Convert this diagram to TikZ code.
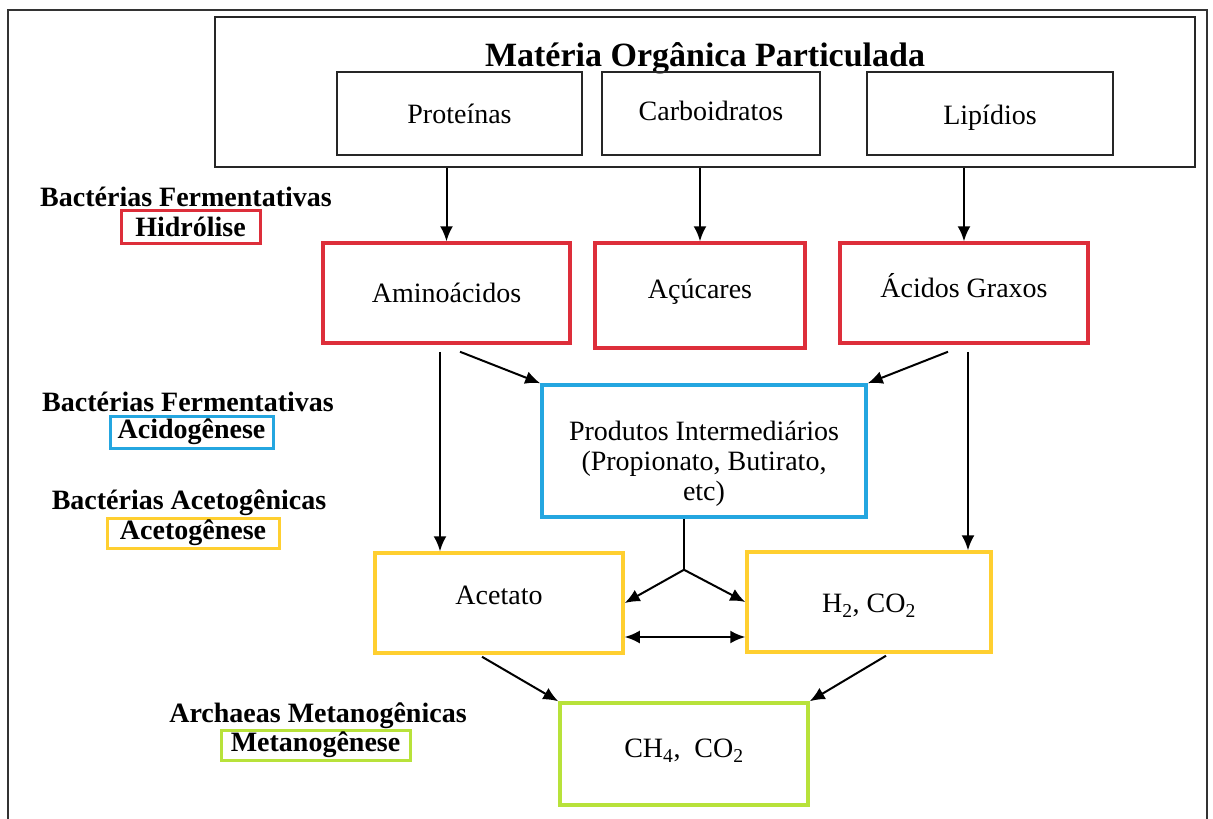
\documentclass[tikz,border=0pt]{standalone}
\usepackage{fontspec}
\setmainfont{Liberation Serif}
\usepackage{tikz}
\usetikzlibrary{calc}
\usetikzlibrary{arrows.meta}
\usetikzlibrary{positioning}

\definecolor{hidrol}{RGB}{221,46,58}
\definecolor{acido}{RGB}{36,166,224}
\definecolor{aceto}{RGB}{255,207,48}
\definecolor{metano}{RGB}{184,226,58}

\tikzset{
 caixa/.style={rectangle, draw=black!85, line width=1.6pt, align=center, font=\fontsize{28}{30}\selectfont},
 etapa/.style={rectangle, line width=3.5pt, align=center, font=\fontsize{28}{30}\selectfont},
 grupo/.style={font=\bfseries\fontsize{28}{30}\selectfont, inner sep=0pt},
 rotulo/.style={rectangle, line width=3pt, inner sep=0pt, font=\bfseries\fontsize{28}{30}\selectfont},
 seta/.style={-{Latex[length=15pt,width=13pt]}, draw=black, line width=2pt}
}

\begin{document}
\begin{tikzpicture}[x=1pt, y=-1pt]
 \useasboundingbox (0,0) rectangle (1213,819);
 \draw [draw=black!80, line width=1.2pt] (8,819) -- (8,10) -- (1207,10) -- (1207,819);

 % materia organica
 \node [caixa, minimum width=980, minimum height=150] (MOP) at (705,92) {};
 \node [font=\bfseries\fontsize{34}{36}\selectfont] (titulo) at (705,58) {Matéria Orgânica Particulada};
 \node [caixa, minimum width=245, minimum height=83] (proteinas) at (459.5,113.5) {Proteínas};
 \node [caixa, minimum width=218, minimum height=83, text depth=6pt] (carboidratos) at (711,113.5) {Carboidratos};
 \node [caixa, minimum width=246, minimum height=83, text height=27pt] (lipidios) at (990,113.5) {Lipídios};

 % hidrolise
 \node [etapa, draw=hidrol, minimum width=247, minimum height=100] (amino) at (446.5,293) {Aminoácidos};
 \node [etapa, draw=hidrol, minimum width=210, minimum height=105, text depth=14pt] (acucares) at (700,295.5) {Açúcares};
 \node [etapa, draw=hidrol, minimum width=248, minimum height=100, text depth=16pt] (acidos) at (964,293) {Ácidos Graxos};

 % acidogenese, acetogenese, metanogenese
 \node [etapa, draw=acido, minimum width=324, minimum height=132, text height=105pt] (produtos) at (704,451) {Produtos Intermediários\\(Propionato, Butirato,\\etc)};
 \node [etapa, draw=aceto, minimum width=248, minimum height=100, text depth=16pt] (acetato) at (499,603) {Acetato};
 \node [etapa, draw=aceto, minimum width=244, minimum height=100, text height=26pt] (h2) at (869,602) {H\textsubscript{2}, CO\textsubscript{2}};
 \node [etapa, draw=metano, minimum width=248, minimum height=102, text depth=11pt] (ch4) at (684,754) {CH\textsubscript{4},\ \ CO\textsubscript{2}};

 % rotulos
 \node [grupo] (fermA) at (186,197) {Bactérias Fermentativas};
 \node [rotulo, draw=hidrol, minimum width=139, minimum height=33] (hidrolise) at (190.5,226.5) {Hidrólise};
 \node [grupo] (fermB) at (188,402) {Bactérias Fermentativas};
 \node [rotulo, draw=acido, minimum width=163, minimum height=32] (acidogenese) at (191.5,432) {Acidogênese};
 \node [grupo] (acetog) at (189,503) {Bactérias Acetogênicas};
 \node [rotulo, draw=aceto, minimum width=172, minimum height=30] (acetogenese) at (193,533) {Acetogênese};
 \node [grupo] (archaeas) at (318,716) {Archaeas Metanogênicas};
 \node [rotulo, draw=metano, minimum width=189, minimum height=30] (metanogenese) at (315.5,745) {Metanogênese};

 % setas
 \draw [seta] (MOP.south -| amino.north) to (amino.north);
 \draw [seta] (MOP.south -| acucares.north) to (acucares.north);
 \draw [seta] (MOP.south -| acidos.north) to (acidos.north);
 \draw [seta] ([xshift=-6.5pt,yshift=-7pt]amino.south) to ([xshift=-6.5pt]amino.south |- acetato.north);
 \draw [seta] ([xshift=13.5pt,yshift=-7pt]amino.south) to (produtos.north west);
 \draw [seta] ([xshift=-16pt,yshift=-7pt]acidos.south) to (produtos.north east);
 \draw [seta] ([xshift=4pt,yshift=-7pt]acidos.south) to ([xshift=4pt]acidos.south |- h2.north);
 \coordinate (ramo) at ([xshift=-20pt,yshift=-51pt]produtos.south);
 \draw [draw=black, line width=2pt] ([xshift=-20pt]produtos.south) to (ramo);
 \draw [seta] (ramo) to (acetato.east);
 \draw [seta] (ramo) to (h2.west);
 \draw [{Latex[length=15pt,width=13pt]}-{Latex[length=15pt,width=13pt]}, draw=black, line width=2pt] ([yshift=-34pt]acetato.east) to ([yshift=-34pt]acetato.east -| h2.west);
 \draw [seta] ([xshift=-17pt,yshift=-2pt]acetato.south) to (ch4.north west);
 \draw [seta] ([xshift=17pt,yshift=-2pt]h2.south) to (ch4.north east);
\end{tikzpicture}
\end{document}
